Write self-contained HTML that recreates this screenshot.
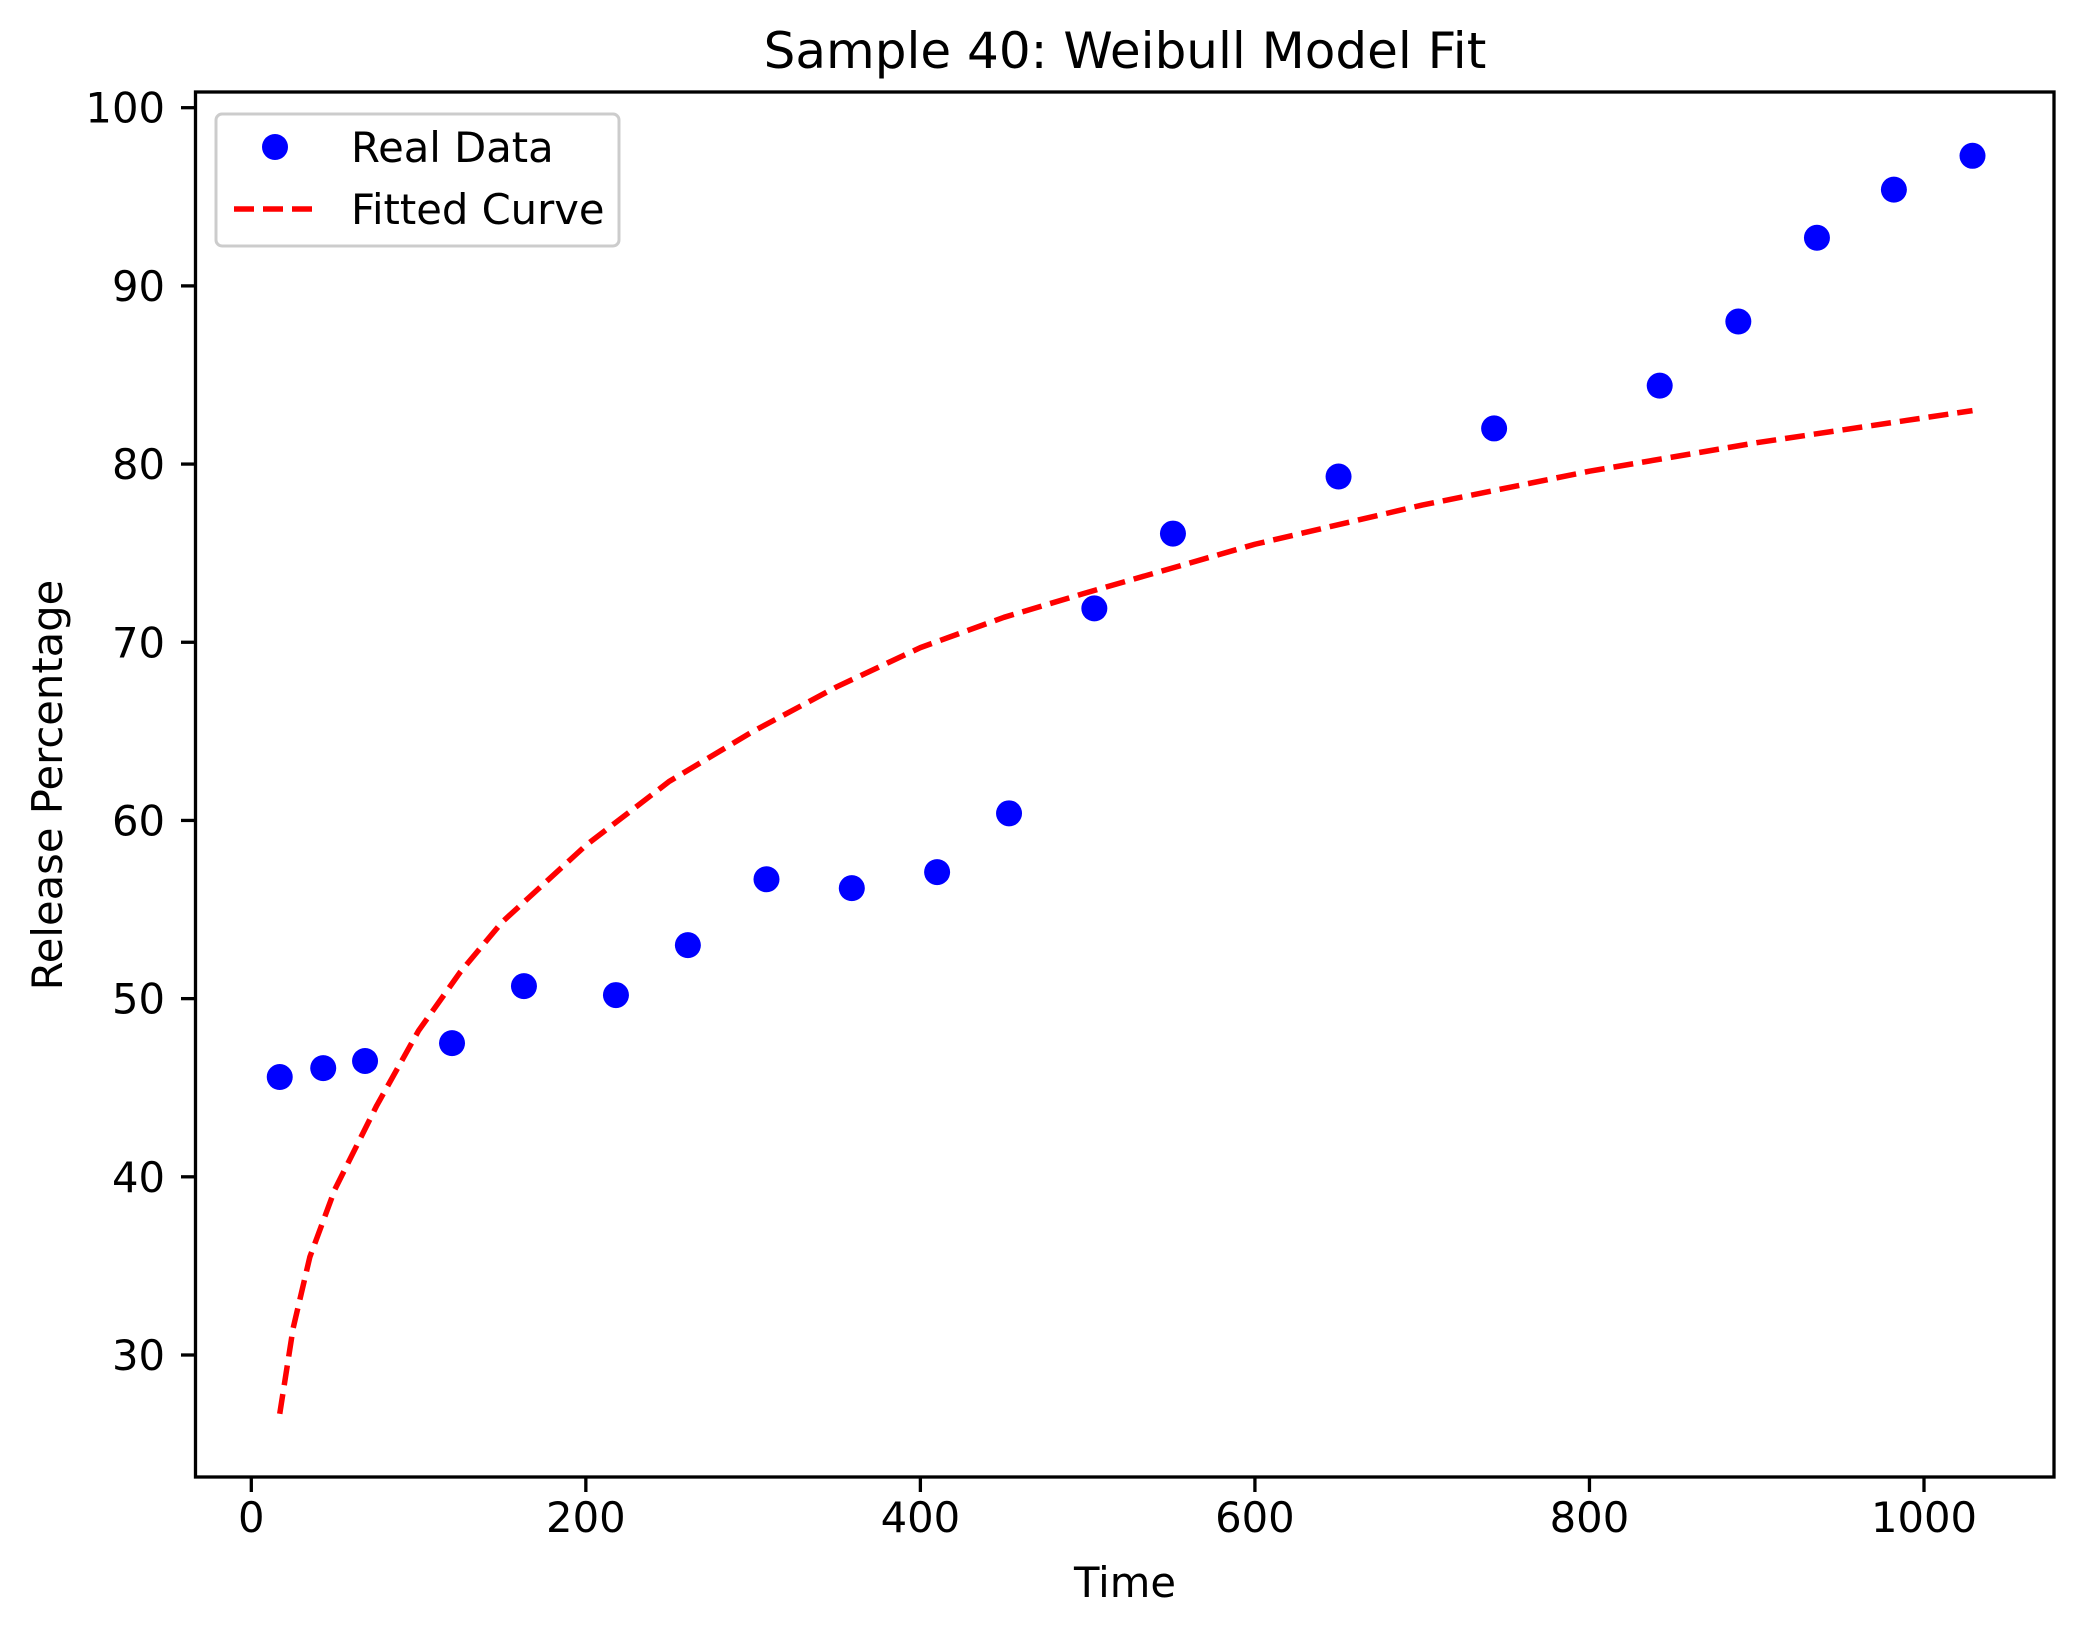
<!DOCTYPE html>
<html><head><meta charset="utf-8"><style>
html,body{margin:0;padding:0;background:#fff}
svg{display:block;font-family:"DejaVu Sans","Liberation Sans",sans-serif}
</style></head><body>
<svg id="chart" width="2085" height="1634" xmlns="http://www.w3.org/2000/svg">
<rect width="2085" height="1634" fill="#fff"/>
<text x="1125" y="68" font-size="50" text-anchor="middle">Sample 40: Weibull Model Fit</text>
<g id="xticks"></g>
<g id="yticks"></g>
<g id="curve"></g>
<g id="points"></g>
<rect x="195.5" y="92" width="1858.5" height="1385" fill="none" stroke="#000" stroke-width="3.3"/>
<text x="1125" y="1597" font-size="41.7" text-anchor="middle">Time</text>
<text font-size="41.7" text-anchor="middle" transform="translate(62 785) rotate(-90)">Release Percentage</text>
<g>
<rect x="216" y="114" width="403" height="132" rx="6" fill="#fff" stroke="#ccc" stroke-width="3"/>
<circle cx="275" cy="147" r="13" fill="#0000ff"/>
<text x="351" y="162" font-size="41.7">Real Data</text>
<line x1="234" y1="209" x2="316" y2="209" stroke="#ff0000" stroke-width="5.5" stroke-dasharray="20,9"/>
<text x="351" y="224" font-size="41.7">Fitted Curve</text>
</g>
</svg>
<script>
const xTicks=[0,200,400,600,800,1000];
const yTicks=[30,40,50,60,70,80,90,100];
const timeVals=[17,43,68,120,163,218,261,308,359,410,453,504,551,650,743,842,889,936,982,1029];
const releaseVals=[45.6,46.1,46.5,47.5,50.7,50.2,53,56.7,56.2,57.1,60.4,71.9,76.1,79.3,82,84.4,88,92.7,95.4,97.3];
const curveT=[17,25,35,50,75,100,125,150,200,250,300,350,400,450,500,600,700,800,900,1029];
const curveY=[26.7,31.5,35.5,39.3,44,48.2,51.5,54.3,58.6,62.2,65,67.5,69.7,71.4,72.8,75.5,77.7,79.6,81.2,83];
const X=v=>251.3+(v-0)*(1924-251.3)/1000;
const Y=v=>1355-(v-30)*(1355-107.7)/70;
const NS="http://www.w3.org/2000/svg";
function mk(t,a,p){const e=document.createElementNS(NS,t);for(const k in a)e.setAttribute(k,a[k]);p.appendChild(e);return e;}
const gx=document.getElementById('xticks'),gy=document.getElementById('yticks');
xTicks.forEach(v=>{const l=mk('line',{x1:X(v),x2:X(v),y1:1477,y2:1492,stroke:'#000','stroke-width':3.3},gx);


const t=mk('text',{x:X(v),y:1532,'font-size':41.7,'text-anchor':'middle'},gx);t.textContent=v;

});
yTicks.forEach(v=>{const l=mk('line',{x1:181,x2:195.5,y1:Y(v),y2:Y(v),stroke:'#000','stroke-width':3.3},gy);


const t=mk('text',{x:165,y:Y(v)+15,'font-size':41.7,'text-anchor':'end'},gy);t.textContent=v;

});
const gc=document.getElementById('curve');
const pl=mk('polyline',{points:curveT.map((t,i)=>X(t)+','+Y(curveY[i])).join(' '),fill:'none',stroke:'#ff0000','stroke-width':5.5,'stroke-dasharray':'20,9','stroke-linejoin':'round'},gc);


const gp=document.getElementById('points');
timeVals.forEach((t,i)=>{const c=mk('circle',{cx:X(t),cy:Y(releaseVals[i]),r:13,fill:'#0000ff'},gp);

});
</script>
</body></html>
